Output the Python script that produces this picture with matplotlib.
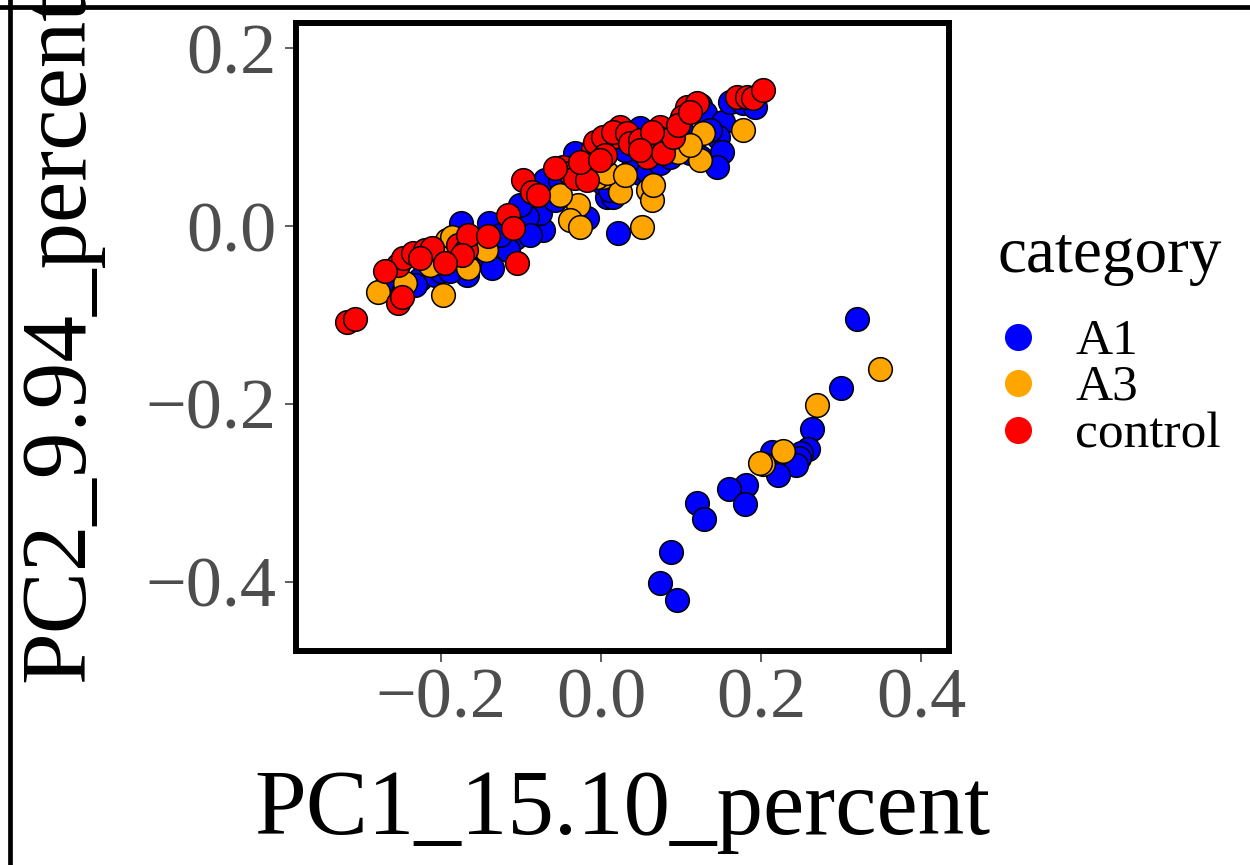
import matplotlib
matplotlib.use("Agg")
import matplotlib.pyplot as plt
from matplotlib.lines import Line2D
import numpy as np

plt.rcParams['font.family'] = ['Liberation Serif', 'DejaVu Serif']

categories = ["A1", "A3", "control"]
colors = {"A1": "#0000FF", "A3": "#FFA500", "control": "#FF0000"}

# A1 (blue)
a1_x = [-0.270, -0.260, -0.226, -0.2075, -0.200, -0.2475, -0.175, -0.1675, -0.140, -0.139,
        -0.136, -0.1075, -0.116, -0.0725, -0.076, -0.0925, -0.070, -0.0325, -0.051, -0.0175,
        0.0075, 0.015, 0.021, 0.049, 0.040, 0.059, 0.074, 0.0025, 0.011, 0.111,
        0.124, 0.124, 0.130, 0.090, 0.086, 0.1525, 0.146, 0.151, 0.145, 0.161,
        0.1775, 0.1925, 0.049, -0.164, -0.189, -0.2325, -0.126, -0.089, -0.101, -0.0575,
        -0.026, 0.030, 0.0675, 0.105, 0.136,
        0.320, 0.300, 0.263, 0.258, 0.250, 0.247, 0.243, 0.213, 0.221, 0.181,
        0.160, 0.180, 0.120, 0.129, 0.0875, 0.073, 0.095]
a1_y = [-0.070, -0.061, -0.059, -0.055, -0.050, -0.074, 0.003, -0.055, 0.003, -0.033,
        -0.047, -0.0135, -0.027, -0.0045, 0.015, 0.010, 0.052, 0.082, 0.052, 0.009,
        0.033, 0.033, -0.008, 0.060, 0.066, 0.061, 0.071, 0.048, 0.041, 0.082,
        0.078, 0.136, 0.127, 0.089, 0.078, 0.117, 0.100, 0.083, 0.066, 0.140,
        0.138, 0.134, 0.110, -0.038, -0.050, -0.066, -0.010, -0.010, 0.024, 0.029,
        0.063, 0.086, 0.086, 0.102, 0.108,
        -0.104, -0.182, -0.228, -0.251, -0.255, -0.261, -0.269, -0.254, -0.280, -0.291,
        -0.296, -0.313, -0.311, -0.330, -0.367, -0.401, -0.421]

# A3 (orange)
a3_x = [-0.279, -0.245, -0.1975, -0.1925, -0.186, -0.166, -0.144, -0.029, -0.039, -0.026,
        0.0025, 0.024, 0.059, 0.064, 0.051, -0.005, 0.0075, 0.065, 0.124, 0.096,
        0.1275, 0.1775, -0.214, -0.051, 0.030, 0.111,
        0.348, 0.270, 0.227, 0.202, 0.198]
a3_y = [-0.074, -0.064, -0.078, -0.016, -0.012, -0.047, -0.027, 0.024, 0.007, -0.001,
        0.055, 0.038, 0.041, 0.029, -0.001, 0.055, 0.060, 0.046, 0.074, 0.083,
        0.105, 0.108, -0.044, 0.035, 0.057, 0.091,
        -0.161, -0.201, -0.253, -0.268, -0.266]

# control (red)
ctrl_x = [-0.318, -0.308, -0.254, -0.249, -0.254, -0.248, -0.235, -0.220, -0.211, -0.179,
          -0.169, -0.166, -0.174, -0.116, -0.110, -0.105, -0.0975, -0.086, -0.079, -0.0475,
          -0.039, -0.0325, -0.0175, -0.001, -0.010, 0.015, -0.0075, 0.0025, 0.024, 0.015,
          0.0325, 0.036, 0.0575, 0.074, 0.070, 0.080, 0.0775, 0.090, 0.1075, 0.120,
          0.101, 0.096, 0.111, 0.170, 0.1825, 0.190, 0.2025, 0.049, 0.064, 0.005,
          -0.270, -0.226, -0.195, -0.141, -0.0575, -0.026, 0.049, -0.001]
ctrl_y = [-0.108, -0.104, -0.087, -0.080, -0.044, -0.036, -0.030, -0.027, -0.025, -0.021,
          -0.027, -0.010, -0.033, 0.012, -0.002, -0.041, 0.052, 0.038, 0.035, 0.066,
          0.060, 0.054, 0.052, 0.093, 0.088, 0.100, 0.095, 0.100, 0.111, 0.106,
          0.105, 0.093, 0.078, 0.111, 0.100, 0.095, 0.082, 0.100, 0.134, 0.138,
          0.123, 0.114, 0.128, 0.145, 0.145, 0.144, 0.153, 0.097, 0.106, 0.080,
          -0.050, -0.036, -0.041, -0.011, 0.065, 0.072, 0.086, 0.074]

x_ticks = [-0.2, 0.0, 0.2, 0.4]
y_ticks = [-0.4, -0.2, 0.0, 0.2]
x_label = "PC1_15.10_percent"
y_label = "PC2_9.94_percent"
legend_title = "category"

W, H = 1250, 865
fig = plt.figure(figsize=(W / 100, H / 100), dpi=100)
ax = fig.add_axes([296 / W, 1 - 651 / H, (948.5 - 296) / W, (651 - 23) / H])

series = {"A1": (a1_x, a1_y), "A3": (a3_x, a3_y), "control": (ctrl_x, ctrl_y)}
for cat in categories:
    xs, ys = series[cat]
    ax.scatter(xs, ys, s=290, c=colors[cat], edgecolors="black", linewidths=1.1, zorder=3)

ax.set_xlim(-0.38125, 0.434)
ax.set_ylim(-0.478, 0.2285)
ax.set_xticks(x_ticks)
ax.set_yticks(y_ticks)
ax.set_xticklabels([f"{v:.1f}".replace("-", "\u2212") for v in x_ticks])
ax.set_yticklabels([f"{v:.1f}".replace("-", "\u2212") for v in y_ticks])
ax.tick_params(axis="both", length=8, width=1.1, color="#333333",
               labelcolor="#4D4D4D", labelsize=52)
ax.tick_params(axis="y", pad=6)
ax.tick_params(axis="x", pad=4)
for sp in ax.spines.values():
    sp.set_linewidth(4.3)
    sp.set_color("black")

ax.set_xlabel(x_label, fontsize=67, color="black")
ax.set_ylabel(y_label, fontsize=67, color="black")
ax.xaxis.set_label_coords(0.5, -0.188)
ax.yaxis.set_label_coords(-0.296, 0.5)

# legend (drawn manually for exact spacing)
fig.text(997 / W, 1 - 272 / H, legend_title, fontsize=47, va="baseline", ha="left")
leg_y = [337, 383, 430]
for cat, py in zip(categories, leg_y):
    fig.add_artist(Line2D([1018 / W], [1 - py / H], transform=fig.transFigure,
                          marker="o", linestyle="none", markersize=19.5,
                          markerfacecolor=colors[cat], markeredgewidth=0))
    fig.text(1075 / W, 1 - (py + 17) / H, cat, fontsize=37, va="baseline", ha="left")

# outer figure border (top and left visible)
fig.add_artist(Line2D([0, 1], [1 - 7 / H, 1 - 7 / H], transform=fig.transFigure,
                      color="black", linewidth=3.4))
fig.add_artist(Line2D([9.5 / W, 9.5 / W], [0, 1], transform=fig.transFigure,
                      color="black", linewidth=3.4))

fig.savefig("out.png", dpi=100, facecolor="white")
